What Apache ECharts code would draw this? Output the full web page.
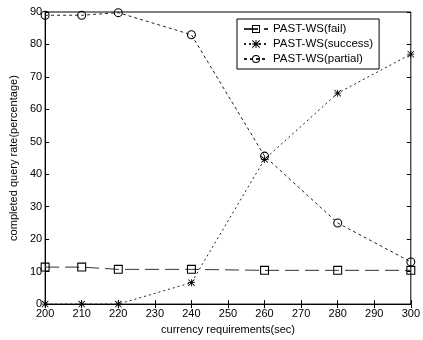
<!DOCTYPE html>
<html>
<head>
<meta charset="utf-8">
<script src="https://cdn.jsdelivr.net/npm/echarts@6/dist/echarts.min.js"></script>
<style>
  html, body { margin: 0; padding: 0; background: #fff; }
  #chart { width: 423px; height: 340px; }
</style>
</head>
<body>
<div id="chart"></div>
<script>
// requirement values on the x axis (sec)
const requirements = [200, 210, 220, 240, 260, 280, 300]
// completed query rate (%)
const failRate = [11.4, 11.4, 10.7, 10.7, 10.4, 10.4, 10.4]
const successRate = [0, 0, 0, 6.6, 44.6, 65, 77]
const partialRate = [89, 89, 89.8, 83, 45.6, 25, 13]

const seriesNames = ['PAST-WS(fail)', 'PAST-WS(success)', 'PAST-WS(partial)']

const font = 'Liberation Sans, Arial, sans-serif'
// matlab-like markers: hollow square, asterisk, hollow circle
const square = 'path://M0 0h10v10h-10zM1.2 1.2v7.6h7.6v-7.6z'
const star = 'path://M4.4 0h1.2v10h-1.2zM0 4.4h10v1.2h-10zM0.8 0L10 9.2L9.2 10L0 0.8zM9.2 0L10 0.8L0.8 10L0 9.2z'
const ring = 'path://M5 0A5 5 0 1 1 4.99 0ZM5 1.2A3.8 3.8 0 1 0 5.01 1.2Z'

function pairs(ys) {
  return requirements.map((x, i) => [x, ys[i]])
}

const chart = echarts.init(document.getElementById('chart'), null, { renderer: 'canvas' })

const hiddenAxis = {
  axisLine: { show: false },
  axisLabel: { show: false },
  splitLine: { show: false },
  axisTick: { show: true, inside: true, length: 4, lineStyle: { color: '#000' } }
}

const option = {
  backgroundColor: '#fff',
  animation: false,
  grid: { left: 42, right: 8, top: 12, bottom: 33, show: true, borderColor: '#000', borderWidth: 1 },
  legend: {
    data: seriesNames,
    orient: 'vertical',
    left: 237,
    top: 19,
    width: 133,
    padding: [4, 6, 4, 6],
    itemGap: 3,
    itemWidth: 24,
    itemHeight: 10,
    backgroundColor: '#fff',
    borderColor: '#000',
    borderWidth: 1,
    borderRadius: 0,
    textStyle: { fontFamily: font, fontSize: 11.5, color: '#000' }
  },
  xAxis: [
    {
      type: 'value', min: 200, max: 300, interval: 10,
      name: 'currency requirements(sec)', nameLocation: 'middle', nameGap: 19,
      nameTextStyle: { fontFamily: font, fontSize: 11, color: '#000' },
      axisLine: { lineStyle: { color: '#000' } },
      axisTick: { inside: true, length: 4, lineStyle: { color: '#000' } },
      axisLabel: { fontFamily: font, fontSize: 11, color: '#000', margin: 4 },
      splitLine: { show: false }
    },
    Object.assign({ type: 'value', min: 200, max: 300, interval: 10, position: 'top' }, hiddenAxis)
  ],
  yAxis: [
    {
      type: 'value', min: 0, max: 90, interval: 10,
      name: 'completed query rate(percentage)', nameLocation: 'middle', nameGap: 24,
      nameTextStyle: { fontFamily: font, fontSize: 11, color: '#000' },
      axisLine: { lineStyle: { color: '#000' } },
      axisTick: { inside: true, length: 4, lineStyle: { color: '#000' } },
      axisLabel: { fontFamily: font, fontSize: 11, color: '#000', margin: 3 },
      splitLine: { show: false }
    },
    Object.assign({ type: 'value', min: 0, max: 90, interval: 10, position: 'right' }, hiddenAxis)
  ],
  series: [
    {
      name: seriesNames[0], type: 'line', data: pairs(failRate),
      symbol: square, symbolSize: 9,
      lineStyle: { color: '#333', width: 1, type: [14, 6] },
      itemStyle: { color: '#000' }
    },
    {
      name: seriesNames[1], type: 'line', data: pairs(successRate),
      symbol: star, symbolSize: 7,
      lineStyle: { color: '#222', width: 1, type: [2, 3] },
      itemStyle: { color: '#000' }
    },
    {
      name: seriesNames[2], type: 'line', data: pairs(partialRate),
      symbol: ring, symbolSize: 9,
      lineStyle: { color: '#222', width: 1, type: [3, 3] },
      itemStyle: { color: '#000' }
    }
  ]
}

chart.setOption(option)
</script>
</body>
</html>
